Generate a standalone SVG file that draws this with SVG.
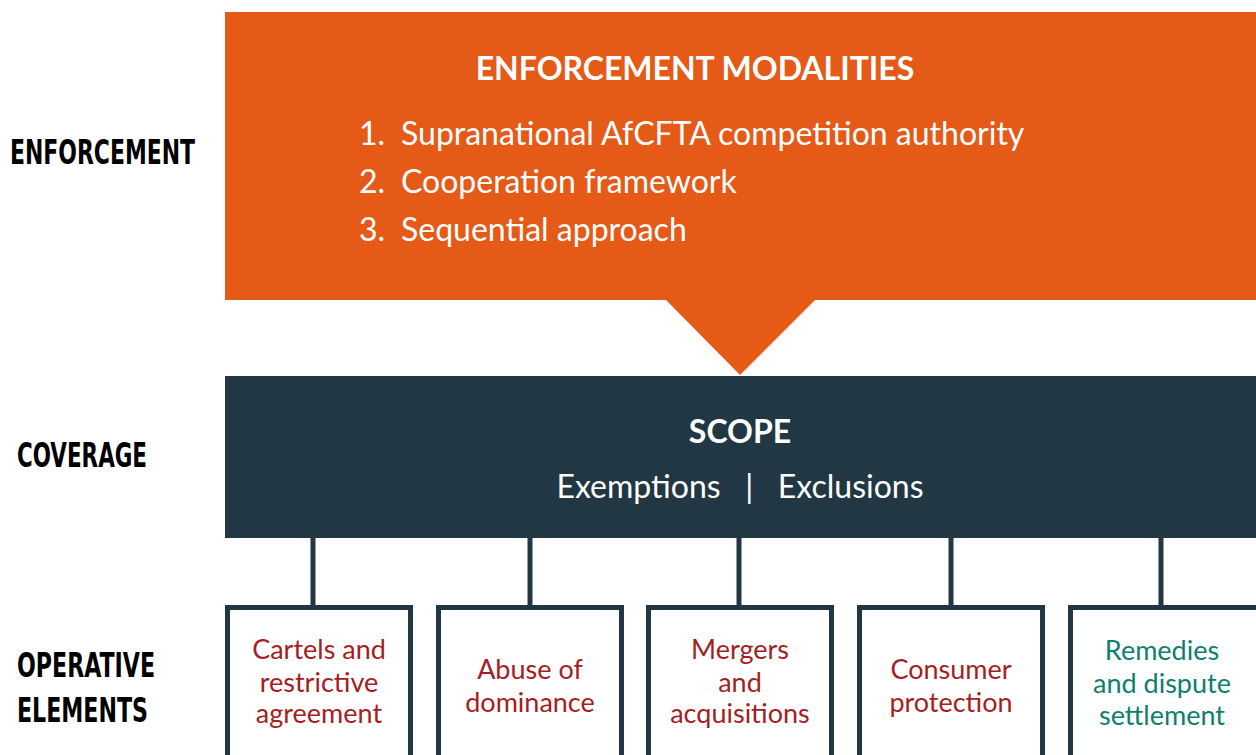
<svg xmlns="http://www.w3.org/2000/svg" width="1256" height="755" viewBox="0 0 1256 755">
<style>
.lbl{font-family:"Liberation Sans Narrow","DejaVu Sans Condensed","Liberation Sans",sans-serif;font-weight:bold;font-size:34px;fill:#000}
.w{font-family:Lato,"Noto Sans",sans-serif;fill:#fff}
.box{fill:#fff;stroke:#213744;stroke-width:5}
.bt{font-family:Lato,"Noto Sans",sans-serif;font-size:27px;text-anchor:middle}
.red{fill:#A51E22}
.teal{fill:#0E7F6E}
.conn{stroke:#213744;stroke-width:5;fill:none}
</style>
<rect width="1256" height="755" fill="#fff"/>
<g id="labels">
<text class="lbl" x="10" y="164" textLength="185" lengthAdjust="spacingAndGlyphs">ENFORCEMENT</text>
<text class="lbl" x="17" y="467" textLength="130" lengthAdjust="spacingAndGlyphs">COVERAGE</text>
<text class="lbl" x="17" y="677" textLength="138" lengthAdjust="spacingAndGlyphs">OPERATIVE</text>
<text class="lbl" x="17" y="722" textLength="131" lengthAdjust="spacingAndGlyphs">ELEMENTS</text>
</g>
<g id="enforcement">
<path d="M225 12H1256V300H815L740 375L666 300H225Z" fill="#E55A17"/>
<text class="w" x="695" y="80" font-size="32" font-weight="bold" text-anchor="middle">ENFORCEMENT MODALITIES</text>
<g font-size="32">
<text class="w" x="359" y="145">1.</text><text class="w" x="401" y="145">Supranational AfCFTA competition authority</text>
<text class="w" x="359" y="193">2.</text><text class="w" x="401" y="193">Cooperation framework</text>
<text class="w" x="359" y="241">3.</text><text class="w" x="401" y="241">Sequential approach</text>
</g>
</g>
<g id="scope">
<rect x="225" y="376" width="1031" height="162" fill="#213744"/>
<text class="w" x="740" y="443" font-size="32" font-weight="bold" text-anchor="middle">SCOPE</text>
<text class="w" x="740" y="498" font-size="32" text-anchor="middle" xml:space="preserve">Exemptions   |   Exclusions</text>
</g>
<g id="connectors">
<line class="conn" x1="313" y1="538" x2="313" y2="606"/>
<line class="conn" x1="530" y1="538" x2="530" y2="606"/>
<line class="conn" x1="739" y1="538" x2="739" y2="606"/>
<line class="conn" x1="951" y1="538" x2="951" y2="606"/>
<line class="conn" x1="1161" y1="538" x2="1161" y2="606"/>
</g>
<g id="cartels">
<rect class="box" x="227.5" y="607.5" width="183" height="160"/>
<text class="bt red" x="319" y="659">Cartels and</text>
<text class="bt red" x="319" y="692">restrictive</text>
<text class="bt red" x="319" y="723">agreement</text>
</g>
<g id="abuse">
<rect class="box" x="438.5" y="607.5" width="183" height="160"/>
<text class="bt red" x="530" y="679">Abuse of</text>
<text class="bt red" x="530" y="712">dominance</text>
</g>
<g id="mergers">
<rect class="box" x="648.5" y="607.5" width="183" height="160"/>
<text class="bt red" x="740" y="659">Mergers</text>
<text class="bt red" x="740" y="692">and</text>
<text class="bt red" x="740" y="723">acquisitions</text>
</g>
<g id="consumer">
<rect class="box" x="859.5" y="607.5" width="183" height="160"/>
<text class="bt red" x="951" y="679">Consumer</text>
<text class="bt red" x="951" y="712">protection</text>
</g>
<g id="remedies">
<rect class="box" x="1070.5" y="607.5" width="200" height="160"/>
<text class="bt teal" x="1162" y="660">Remedies</text>
<text class="bt teal" x="1162" y="693">and dispute</text>
<text class="bt teal" x="1162" y="725">settlement</text>
</g>
</svg>
